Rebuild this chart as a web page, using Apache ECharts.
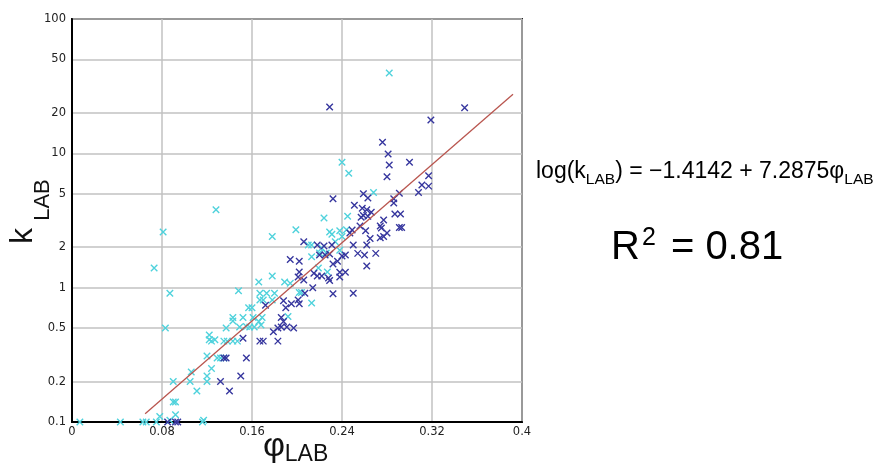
<!DOCTYPE html>
<html><head><meta charset="utf-8">
<script src="https://cdn.jsdelivr.net/npm/echarts@6/dist/echarts.min.js"></script>
<style>html,body{margin:0;padding:0;background:#fff}#c{width:874px;height:466px}</style>
</head><body><div id="c"></div>
<script>
// ---- data (phi_LAB, k_LAB) ----
const phiCyan = [0.282,0.240,0.246,0.268,0.128,0.081,0.178,0.199,0.224,0.245,0.229,0.231,0.238,0.244,0.240,0.213,0.222,0.213,0.219,0.227,0.178,0.166,0.189,0.194,0.202,0.204,0.148,0.167,0.173,0.180,0.167,0.178,0.170,0.213,0.192,0.157,0.160,0.143,0.152,0.161,0.169,0.143,0.149,0.158,0.162,0.168,0.166,0.137,0.083,0.087,0.073,0.122,0.122,0.127,0.124,0.135,0.138,0.143,0.147,0.155,0.120,0.129,0.132,0.135,0.124,0.106,0.090,0.105,0.120,0.120,0.111,0.090,0.092,0.092,0.078,0.087,0.117,0.007,0.043,0.063,0.066,0.075,0.116,0.210,0.220,0.226,0.238,0.234];
const kCyan   = [39.6,8.6,7.1,5.1,3.8,2.6,2.4,2.7,3.3,3.4,2.6,2.5,2.65,2.7,2.4,2.08,1.97,1.7,1.4,1.31,1.22,1.1,1.1,1.08,0.92,0.92,0.95,0.91,0.91,0.91,0.81,0.81,0.81,0.77,0.61,0.71,0.71,0.6,0.6,0.6,0.6,0.565,0.51,0.51,0.51,0.527,0.56,0.5,0.5,0.91,1.4,0.444,0.41,0.41,0.4,0.4,0.4,0.4,0.4,0.515,0.31,0.3,0.3,0.3,0.25,0.236,0.2,0.2,0.2,0.22,0.17,0.141,0.141,0.113,0.11,0.103,0.103,0.1,0.1,0.1,0.1,0.1,0.1,2.08,1.81,1.81,1.9,2.2];
const phiNavy = [0.229,0.349,0.319,0.276,0.281,0.282,0.300,0.280,0.317,0.311,0.317,0.308,0.259,0.263,0.286,0.291,0.286,0.232,0.251,0.258,0.262,0.266,0.259,0.257,0.263,0.287,0.292,0.277,0.274,0.275,0.291,0.293,0.256,0.249,0.247,0.261,0.280,0.277,0.274,0.265,0.206,0.218,0.231,0.224,0.220,0.225,0.229,0.243,0.240,0.250,0.262,0.254,0.260,0.270,0.262,0.194,0.202,0.236,0.232,0.215,0.218,0.222,0.228,0.229,0.238,0.243,0.238,0.201,0.206,0.214,0.207,0.232,0.250,0.172,0.188,0.195,0.201,0.202,0.190,0.186,0.188,0.191,0.186,0.183,0.197,0.179,0.167,0.170,0.183,0.152,0.155,0.135,0.137,0.132,0.150,0.140,0.085,0.092,0.094,0.202];
const kNavy   = [22.1,21.8,17.7,12.1,9.9,8.2,8.6,6.7,6.8,5.8,5.7,5.1,5.0,4.65,4.6,5.05,4.27,4.6,4.1,3.9,3.8,3.65,3.45,3.35,3.4,3.54,3.54,3.19,2.88,2.78,2.8,2.8,2.88,2.69,2.55,2.65,2.55,2.4,2.35,2.32,2.2,2.08,2.08,2.04,1.75,1.75,1.78,1.75,1.72,2.08,2.08,1.8,1.75,1.8,1.45,1.62,1.57,1.57,1.5,1.28,1.22,1.22,1.18,1.13,1.3,1.3,1.2,1.2,1.14,1.0,0.91,0.9,0.91,0.74,0.8,0.76,0.81,0.76,0.71,0.6,0.56,0.51,0.51,0.5,0.5,0.47,0.4,0.4,0.4,0.42,0.3,0.3,0.3,0.2,0.22,0.17,0.1,0.1,0.1,1.31];
// regression line end points
const fitPhi = [0.065, 0.392];
const fitK   = [0.115, 27.5];
const xTicks = [0, 0.08, 0.16, 0.24, 0.32, 0.4];
const yTicks = [0.1, 0.2, 0.5, 1, 2, 5, 10, 20, 50, 100];
const equationText = ['log(k', 'LAB', ') = \u22121.4142 + 7.2875\u03c6', 'LAB'];
const r2Text = ['R', '2', ' = 0.81'];

const pairs = (a, b) => a.map((v, i) => [v, b[i]]);
const cross = 'path://M0,0L10,10M10,0L0,10';
const chart = echarts.init(document.getElementById('c'));
const labelFont = {fontFamily: 'DejaVu Sans', fontSize: 11.5, color: '#222'};
chart.setOption({
  animation: false,
  grid: {left: 72, right: 352, top: 19, bottom: 44, show: true, borderColor: '#222', borderWidth: 2},
  xAxis: {
    type: 'value', min: xTicks[0], max: xTicks[xTicks.length - 1], interval: 0.08,
    axisLine: {lineStyle: {color: '#000', width: 2}},
    axisTick: {show: false},
    axisLabel: Object.assign({margin: 4, formatter: v => String(+v.toFixed(2))}, labelFont),
    splitLine: {show: true, lineStyle: {color: '#c2c2c2', width: 1.5}}
  },
  yAxis: {
    type: 'log', logBase: 10, min: yTicks[0], max: yTicks[yTicks.length - 1],
    axisLine: {lineStyle: {color: '#000', width: 2}},
    axisTick: {show: false, customValues: yTicks},
    axisLabel: Object.assign({margin: 6, customValues: yTicks, formatter: v => String(v)}, labelFont),
    splitLine: {show: true, lineStyle: {color: '#c2c2c2', width: 1.5}},
    minorSplitLine: {show: false}
  },
  series: [
    {type: 'scatter', data: pairs(phiCyan, kCyan), symbol: cross, symbolSize: 6.5, clip: false,
     itemStyle: {color: 'none', borderColor: '#4fd2dc', borderWidth: 1.4, opacity: 1}, z: 3},
    {type: 'scatter', data: pairs(phiNavy, kNavy), symbol: cross, symbolSize: 6.5, clip: false,
     itemStyle: {color: 'none', borderColor: '#36369e', borderWidth: 1.4, opacity: 1}, z: 4},
    {type: 'line', data: pairs(fitPhi, fitK), symbol: 'none', lineStyle: {color: '#b9564f', width: 1.3}, z: 5}
  ],
  graphic: [
    {type: 'text', x: 23.5, y: 236, rotation: Math.PI / 2,
     style: {text: 'k', font: '32px "Liberation Sans"', fill: '#111', align: 'center', verticalAlign: 'middle'}},
    {type: 'text', x: 42.5, y: 200, rotation: Math.PI / 2,
     style: {text: 'LAB', font: '22px "Liberation Sans"', fill: '#111', align: 'center', verticalAlign: 'middle'}},
    {type: 'text', x: 274, y: 447,
     style: {text: '\u03c6', font: '34px "Liberation Sans"', fill: '#111', align: 'center', verticalAlign: 'middle'}},
    {type: 'text', x: 306.5, y: 455,
     style: {text: 'LAB', font: '23px "Liberation Sans"', fill: '#111', align: 'center', verticalAlign: 'middle'}},
    {type: 'text', x: 536, y: 172,
     style: {text: '{m|' + equationText[0] + '}{s|' + equationText[1] + '}{m|' + equationText[2] + '}{s|' + equationText[3] + '}',
       align: 'left', verticalAlign: 'middle',
       rich: {m: {fontFamily: 'Liberation Sans', fontSize: 23, lineHeight: 30, color: '#111'},
              s: {fontFamily: 'Liberation Sans', fontSize: 15.5, lineHeight: 16, padding: [16, 0, 0, 0], color: '#111'}}}},
    {type: 'text', x: 611, y: 248,
     style: {text: '{b|' + r2Text[0] + '}{p|' + r2Text[1] + '}{b|' + r2Text[2] + '}',
       align: 'left', verticalAlign: 'middle',
       rich: {b: {fontFamily: 'Liberation Sans', fontSize: 40, lineHeight: 46, color: '#111'},
              p: {fontFamily: 'Liberation Sans', fontSize: 25, lineHeight: 25, padding: [0, 4, 20, 2], color: '#111'}}}}
  ]
});
</script></body></html>
